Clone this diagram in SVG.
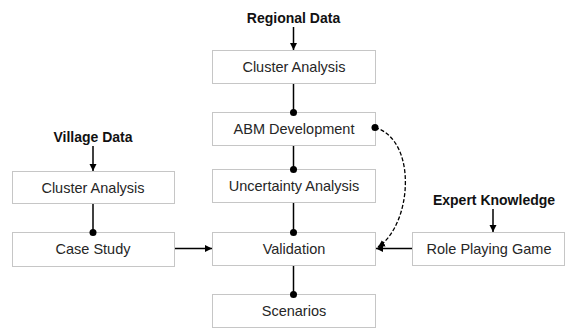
<svg xmlns="http://www.w3.org/2000/svg" width="566" height="329" viewBox="0 0 566 329">
<style>
.box{fill:#fff;stroke:#c6c6c6;stroke-width:1}
.lbl{font-family:"Liberation Sans",Arial,sans-serif;font-size:14.5px;fill:#262626;text-anchor:middle}
.ttl{font-family:"Liberation Sans",Arial,sans-serif;font-size:14px;font-weight:bold;fill:#111;text-anchor:middle}
.ln{stroke:#000;stroke-width:1.5;fill:none}
.dash{stroke:#000;stroke-width:1.3;fill:none;stroke-dasharray:4 2}
</style>
<defs>
<marker id="arr" markerWidth="8" markerHeight="8" refX="7" refY="4" orient="auto" markerUnits="userSpaceOnUse">
<path d="M0,0.5 L7,4 L0,7.5 Z" fill="#000"/>
</marker>
<marker id="dot" markerWidth="8" markerHeight="8" refX="4" refY="4" orient="auto" markerUnits="userSpaceOnUse">
<circle cx="4" cy="4" r="3.5" fill="#000"/>
</marker>
</defs>
<g id="regional-data"><text class="ttl" x="293.5" y="23">Regional Data</text></g>
<g id="cluster-analysis-1"><rect class="box" x="212.5" y="50.5" width="163" height="33"/><text class="lbl" x="294" y="72">Cluster Analysis</text></g>
<g id="abm-development"><rect class="box" x="212.5" y="112.5" width="163" height="33"/><text class="lbl" x="294" y="134">ABM Development</text></g>
<g id="uncertainty-analysis"><rect class="box" x="212.5" y="169.5" width="163" height="33"/><text class="lbl" x="294" y="191">Uncertainty Analysis</text></g>
<g id="validation"><rect class="box" x="212.5" y="232.5" width="163" height="33"/><text class="lbl" x="294" y="254">Validation</text></g>
<g id="scenarios"><rect class="box" x="212.5" y="294.5" width="163" height="33"/><text class="lbl" x="294" y="316">Scenarios</text></g>
<g id="village-data"><text class="ttl" x="93" y="142">Village Data</text></g>
<g id="cluster-analysis-2"><rect class="box" x="12.5" y="171.5" width="162" height="32"/><text class="lbl" x="93" y="193">Cluster Analysis</text></g>
<g id="case-study"><rect class="box" x="12.5" y="232.5" width="162" height="34"/><text class="lbl" x="93" y="254">Case Study</text></g>
<g id="expert-knowledge"><text class="ttl" x="494" y="205">Expert Knowledge</text></g>
<g id="role-playing-game"><rect class="box" x="412.5" y="232.5" width="152" height="33"/><text class="lbl" x="489" y="254">Role Playing Game</text></g>
<g id="connectors">
<line class="ln" x1="293.5" y1="27" x2="293.5" y2="50" marker-end="url(#arr)"/>
<line class="ln" x1="293.5" y1="84" x2="293.5" y2="112.5" marker-end="url(#dot)"/>
<line class="ln" x1="293.5" y1="146" x2="293.5" y2="169.5" marker-end="url(#dot)"/>
<line class="ln" x1="293.5" y1="203" x2="293.5" y2="232.5" marker-end="url(#dot)"/>
<line class="ln" x1="293.5" y1="266" x2="293.5" y2="294.5" marker-end="url(#dot)"/>
<line class="ln" x1="93" y1="146" x2="93" y2="171" marker-end="url(#arr)"/>
<line class="ln" x1="93" y1="204" x2="93" y2="232.5" marker-end="url(#dot)"/>
<line class="ln" x1="175" y1="248.5" x2="212" y2="248.5" marker-end="url(#arr)"/>
<line class="ln" x1="493" y1="209" x2="493" y2="232" marker-end="url(#arr)"/>
<line class="ln" x1="412" y1="248.5" x2="376" y2="248.5" marker-end="url(#arr)"/>
<circle cx="375" cy="127.5" r="3.5" fill="#000"/>
<path class="dash" d="M375,127.5 C418,140 412,225 378,247" marker-end="url(#arr)"/>
</g>
</svg>
